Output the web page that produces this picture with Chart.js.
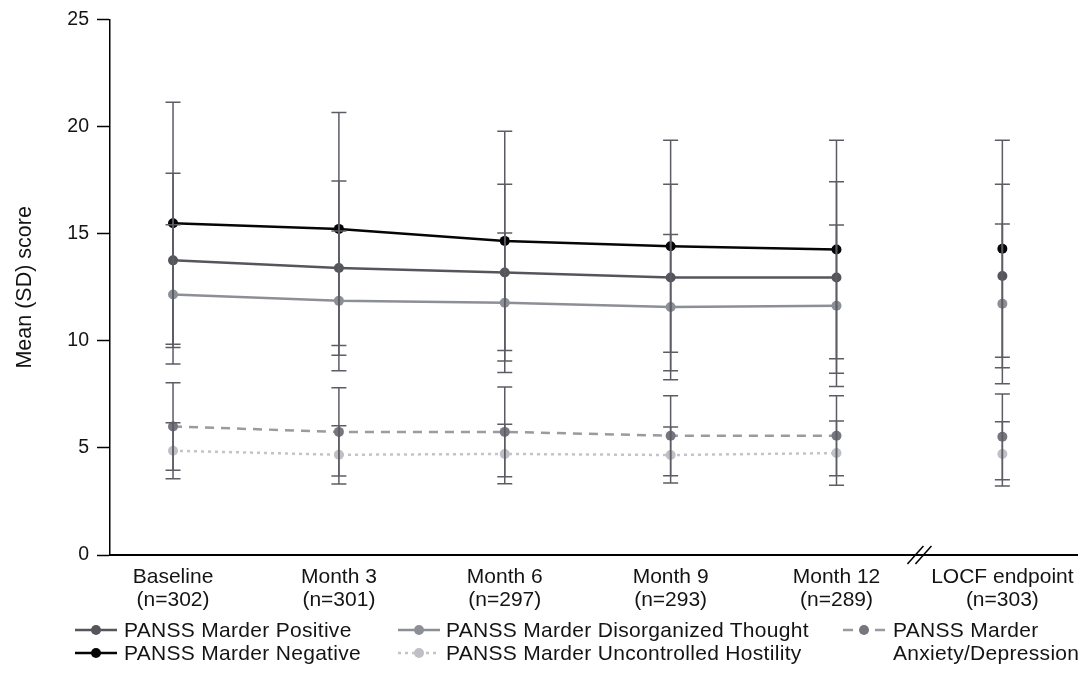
<!DOCTYPE html>
<html>
<head>
<meta charset="utf-8">
<script src="https://cdn.jsdelivr.net/npm/chart.js@4.4.1/dist/chart.umd.min.js"></script>
<style>
  html, body { margin: 0; padding: 0; background: #ffffff; }
  #wrap { position: relative; width: 1082px; height: 692px; overflow: hidden; }
  #chart { position: absolute; left: 0; top: 0; }
  .lg { position: absolute; font-family: "Liberation Sans", Arial, sans-serif; font-size: 21px; letter-spacing: 0.3px; color: #141414; line-height: 23px; white-space: nowrap; }
  .lg svg { position: absolute; left: 0; top: 6px; }
  .lg span { position: absolute; top: 0; }
</style>
</head>
<body>
<div id="wrap">
  <canvas id="chart" width="1082" height="692"></canvas>
  <div id="legend"></div>
</div>
<script>
// ---------- data ----------
const categories = [
  ["Baseline", "(n=302)"],
  ["Month 3", "(n=301)"],
  ["Month 6", "(n=297)"],
  ["Month 9", "(n=293)"],
  ["Month 12", "(n=289)"],
  ["LOCF endpoint", "(n=303)"]
];
const xPositions = [0, 1, 2, 3, 4, 5];
const yTicks = [0, 5, 10, 15, 20, 25];

const seriesNames = [
  "PANSS Marder Positive",
  "PANSS Marder Negative",
  "PANSS Marder Disorganized Thought",
  "PANSS Marder Uncontrolled Hostility",
  "PANSS Marder Anxiety/Depression"
];

const positiveMean   = [13.76, 13.40, 13.19, 12.96, 12.96, 13.03];
const positiveSD     = [4.07, 4.07, 4.13, 4.36, 4.47, 4.29];
const negativeMean   = [15.49, 15.23, 14.67, 14.42, 14.27, 14.30];
const negativeSD     = [5.65, 5.44, 5.12, 4.95, 5.10, 5.07];
const disorgMean     = [12.17, 11.87, 11.78, 11.58, 11.64, 11.73];
const disorgSD       = [3.25, 3.26, 3.26, 3.39, 3.77, 3.73];
const hostilityMean  = [4.87, 4.68, 4.72, 4.67, 4.76, 4.72];
const hostilitySD    = [1.31, 1.36, 1.39, 1.31, 1.50, 1.50];
const anxietyMean    = [6.00, 5.75, 5.75, 5.57, 5.57, 5.52];
const anxietySD      = [2.04, 2.06, 2.10, 1.87, 1.87, 2.00];

const breakAt = 4.5;   // axis break between Month 12 and LOCF

// ---------- chart ----------
const FONT = '"Liberation Sans", Arial, sans-serif';
const ERR_COLOR = '#5c5d64';

function pts(means) { return xPositions.map((x, i) => ({ x: x, y: means[i] })); }
const noLocfLink = ctx => (ctx.p1DataIndex === xPositions.length - 1 ? 'rgba(0,0,0,0)' : undefined);

const styles = [
  { line: '#55565c', point: '#55565c', dash: [] },
  { line: '#050505', point: '#050505', dash: [] },
  { line: '#8d8f96', point: '#8d8f96', dash: [] },
  { line: '#c3c4ca', point: '#bfc0c6', dash: [3, 4] },
  { line: '#9a9a9f', point: '#76777e', dash: [9, 7] }
];
const means = [positiveMean, negativeMean, disorgMean, hostilityMean, anxietyMean];
const sds = [positiveSD, negativeSD, disorgSD, hostilitySD, anxietySD];
const drawOrder = [1, 0, 2, 4, 3];

const datasets = seriesNames.map((name, k) => ({
  label: name,
  data: pts(means[k]),
  errSD: sds[k],
  borderColor: styles[k].line,
  backgroundColor: styles[k].point,
  pointBackgroundColor: styles[k].point,
  pointBorderColor: styles[k].point,
  pointRadius: 5,
  pointBorderWidth: 0,
  borderWidth: 2.5,
  borderDash: styles[k].dash,
  tension: 0,
  order: drawOrder[k],
  segment: { borderColor: noLocfLink }
}));

const errorBars = {
  id: 'errorBars',
  afterDatasetsDraw(chart) {
    const { ctx, scales: { x, y } } = chart;
    ctx.save();
    ctx.strokeStyle = ERR_COLOR;
    ctx.lineWidth = 1.5;
    ctx.setLineDash([]);
    chart.data.datasets.forEach(ds => {
      ds.data.forEach((p, i) => {
        const sd = ds.errSD[i];
        const px = x.getPixelForValue(p.x);
        const yHi = y.getPixelForValue(p.y + sd);
        const yLo = y.getPixelForValue(p.y - sd);
        ctx.beginPath();
        ctx.moveTo(px, yHi); ctx.lineTo(px, yLo);
        ctx.moveTo(px - 7.5, yHi); ctx.lineTo(px + 7.5, yHi);
        ctx.moveTo(px - 7.5, yLo); ctx.lineTo(px + 7.5, yLo);
        ctx.stroke();
      });
    });
    ctx.restore();
  }
};

const axisBreak = {
  id: 'axisBreak',
  afterDraw(chart) {
    const { ctx, scales: { x }, chartArea } = chart;
    const cx = x.getPixelForValue(breakAt);
    const cy = chartArea.bottom;
    ctx.save();
    ctx.strokeStyle = '#000';
    ctx.lineWidth = 1.5;
    [-4, 4].forEach(off => {
      ctx.beginPath();
      ctx.moveTo(cx + off - 8, cy + 9);
      ctx.lineTo(cx + off + 8, cy - 9);
      ctx.stroke();
    });
    ctx.restore();
  }
};

new Chart(document.getElementById('chart'), {
  type: 'line',
  data: { datasets: datasets },
  plugins: [errorBars, axisBreak],
  options: {
    responsive: false,
    animation: false,
    events: [],
    layout: { padding: { top: 17, right: 0, bottom: 0, left: 0 } },
    plugins: { legend: { display: false }, tooltip: { enabled: false } },
    scales: {
      x: {
        type: 'linear',
        min: -0.38,
        max: 5.45,
        afterBuildTicks: s => { s.ticks = xPositions.map(v => ({ value: v })); },
        afterFit: s => { s.height = 137; s.paddingRight = 5; },
        grid: { display: false, drawTicks: false },
        border: { display: true, color: '#000', width: 2 },
        ticks: {
          padding: 11,
          color: '#141414',
          font: { family: FONT, size: 21, lineHeight: 1.1 },
          maxRotation: 0,
          autoSkip: false,
          callback: v => categories[xPositions.indexOf(v)] || ''
        }
      },
      y: {
        min: 0,
        max: 25,
        afterBuildTicks: s => { s.ticks = yTicks.map(v => ({ value: v })); },
        afterFit: s => { s.width = 110; },
        grid: { drawOnChartArea: false, drawTicks: true, tickLength: 13, tickColor: '#000', tickWidth: 1.5 },
        border: { display: true, color: '#000', width: 1.5 },
        ticks: {
          padding: 8,
          color: '#141414',
          font: { family: FONT, size: 19.5 }
        },
        title: {
          display: true,
          text: 'Mean (SD) score',
          color: '#141414',
          font: { family: FONT, size: 21.5 },
          padding: { top: 12, bottom: 0 }
        }
      }
    }
  }
});

// ---------- legend (HTML, built from the series) ----------
const legendSlots = [
  { k: 0, left: 75, top: 618, textX: 49 },
  { k: 1, left: 75, top: 641, textX: 49 },
  { k: 2, left: 398, top: 618, textX: 48 },
  { k: 3, left: 398, top: 641, textX: 48 },
  { k: 4, left: 843, top: 618, textX: 50 }
];
const legend = document.getElementById('legend');
legendSlots.forEach(slot => {
  const st = styles[slot.k];
  const div = document.createElement('div');
  div.className = 'lg';
  div.style.left = slot.left + 'px';
  div.style.top = slot.top + 'px';
  let lineSvg;
  if (slot.k === 4) {
    lineSvg = `<line x1="0" y1="6" x2="10" y2="6" stroke="${st.line}" stroke-width="2.5"/>` +
              `<line x1="32" y1="6" x2="42" y2="6" stroke="${st.line}" stroke-width="2.5"/>`;
  } else {
    const dash = st.dash.length ? ` stroke-dasharray="${st.dash.join(' ')}"` : '';
    lineSvg = `<line x1="0" y1="6" x2="42" y2="6" stroke="${st.line}" stroke-width="2.5"${dash}/>`;
  }
  const name = seriesNames[slot.k];
  let text = name;
  if (slot.k === 4) {
    text = name.replace(' Anxiety', '<br>Anxiety');
  }
  div.innerHTML = `<svg width="42" height="12">${lineSvg}<circle cx="21" cy="6" r="5" fill="${st.point}"/></svg>` +
                  `<span style="left:${slot.textX}px">${text}</span>`;
  legend.appendChild(div);
});
</script>
</body>
</html>
